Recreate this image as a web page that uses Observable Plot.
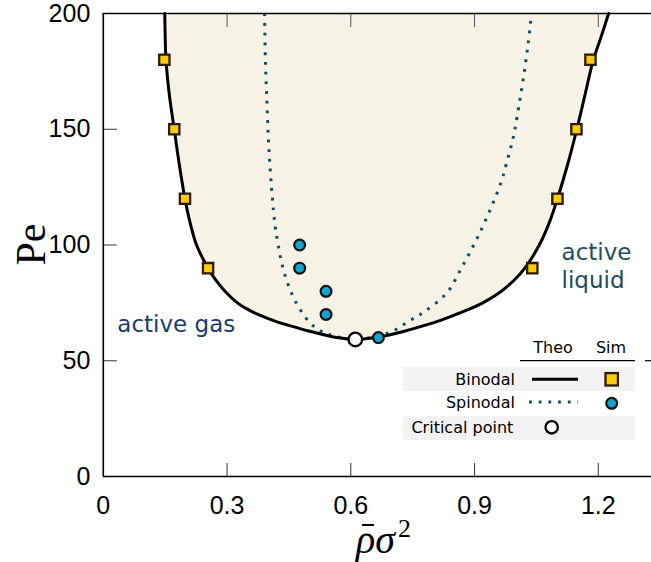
<!DOCTYPE html>
<html>
<head>
<meta charset="utf-8">
<script src="https://cdn.jsdelivr.net/npm/d3@7"></script>
<script src="https://cdn.jsdelivr.net/npm/@observablehq/plot@0.6"></script>
<style>
  html, body { margin: 0; padding: 0; background: #fff; }
  #chart { position: relative; width: 651px; height: 562px; overflow: hidden; }
  svg { display: block; }
</style>
</head>
<body>
<div id="chart"></div>
<script>
// ---- Data ----
// Binodal (theory): both branches at common Pe levels
const binodalPe    = [59.2, 60, 61, 62.5, 64.5, 67, 70, 72.5, 75, 80, 85, 90, 100, 110, 120, 135, 150, 165, 180, 190, 200];
const binodalLeft  = [0.611, 0.566, 0.540, 0.505, 0.465, 0.418, 0.375, 0.347, 0.325, 0.295, 0.272, 0.254, 0.226, 0.210, 0.198, 0.184, 0.172, 0.160, 0.152, 0.150, 0.149];
const binodalRight = [0.611, 0.660, 0.690, 0.725, 0.765, 0.810, 0.855, 0.890, 0.920, 0.965, 0.997, 1.022, 1.057, 1.082, 1.101, 1.126, 1.148, 1.168, 1.188, 1.207, 1.225];

// Spinodal (theory)
const spinLeftPe  = [200, 180, 160, 140, 120, 109, 100, 89, 77, 67, 62.5, 60.9, 59.2];
const spinLeftX   = [0.391, 0.393, 0.397, 0.402, 0.410, 0.416, 0.424, 0.437, 0.462, 0.498, 0.530, 0.555, 0.611];
const spinRightPe = [59.2, 60.5, 63, 67, 71, 79.6, 90, 100, 110, 126.4, 135, 146.6, 159.5, 174, 187, 200];
const spinRightX  = [0.611, 0.660, 0.704, 0.740, 0.777, 0.834, 0.868, 0.898, 0.925, 0.963, 0.977, 0.994, 1.007, 1.020, 1.030, 1.038];

// Binodal (simulation)
const simBinPe = [180, 150, 120, 90, 180, 150, 120, 90];
const simBinX  = [0.148, 0.172, 0.198, 0.254, 1.181, 1.147, 1.101, 1.040];

// Spinodal (simulation)
const simSpinPe = [100, 90, 80, 70, 60];
const simSpinX  = [0.476, 0.476, 0.540, 0.540, 0.667];

// Critical point (theory)
const criticalX = [0.611];
const criticalPe = [59.2];

// Axes
const xTicks = [0, 0.3, 0.6, 0.9, 1.2];
const yTicks = [0, 50, 100, 150, 200];
const xDomain = [0, 1.329];
const yDomain = [0, 200];

// Annotations
const gasLabel = [{text: "active gas", x: 0.177, pe: 65.5}];
const liquidLabel = [{text: "active\nliquid", x: 1.111, pe: 91.5}];

// ---- Build tables ----
const binodalTable = binodalPe.map((pe, i) => ({pe, left: binodalLeft[i], right: binodalRight[i]}));
const binodalPath = [
  ...binodalPe.map((pe, i) => ({pe, x: binodalLeft[i]})).reverse(),
  ...binodalPe.map((pe, i) => ({pe, x: binodalRight[i]})).slice(1)
];
const spinodalPath = [
  ...spinLeftPe.map((pe, i) => ({pe, x: spinLeftX[i]})),
  ...spinRightPe.map((pe, i) => ({pe, x: spinRightX[i]})).slice(1)
];
const simBin = simBinPe.map((pe, i) => ({pe, x: simBinX[i]}));
const simSpin = simSpinPe.map((pe, i) => ({pe, x: simSpinX[i]}));
const critical = criticalPe.map((pe, i) => ({pe, x: criticalX[i]}));

const SPIN = "#0f4f5c";
const tickFont = "'Liberation Sans', Arial, sans-serif";

const plot = Plot.plot({
  width: 651,
  height: 562,
  marginTop: 13,
  marginBottom: 86,
  marginLeft: 102.8,
  marginRight: 0,
  style: {fontFamily: tickFont, background: "#fff", overflow: "visible"},
  x: {domain: xDomain},
  y: {domain: yDomain},
  marks: [
    Plot.areaX(binodalTable, {y: "pe", x1: "left", x2: "right", fill: "#f6f2e6", curve: "catmull-rom"}),
    Plot.line(spinodalPath, {x: "x", y: "pe", stroke: SPIN, strokeWidth: 3, strokeDasharray: "2.8 6.9", curve: "catmull-rom", strokeLinecap: "butt"}),
    Plot.line(binodalPath, {x: "x", y: "pe", stroke: "#000", strokeWidth: 3, curve: "catmull-rom"}),
    // frame (left, bottom, top)
    Plot.ruleX([xDomain[0]], {stroke: "#000", strokeWidth: 1.6}),
    Plot.ruleY([yDomain[0]], {stroke: "#000", strokeWidth: 1.6}),
    Plot.ruleY([yDomain[1]], {stroke: "#000", strokeWidth: 1.6}),
    // inward ticks
    Plot.axisX(xTicks.slice(1), {anchor: "bottom", tickSize: -13, tickFormat: () => "", stroke: "#333", label: null}),
    Plot.axisX(xTicks.slice(1), {anchor: "top", tickSize: -13, tickFormat: () => "", stroke: "#555", label: null}),
    Plot.axisY(yTicks.slice(1, -1), {anchor: "left", tickSize: -14, tickFormat: () => "", stroke: "#333", label: null}),
    // tick labels
    Plot.axisX(xTicks, {anchor: "bottom", tickSize: 0, tickPadding: 20, fontSize: 25, fill: "#000", label: null, tickFormat: d => d === 0 ? "0" : d3.format(".1f")(d)}),
    Plot.axisY(yTicks, {anchor: "left", tickSize: 0, tickPadding: 13, fontSize: 25, fill: "#000", label: null}),
    // simulation points
    Plot.dot(simBin, {x: "x", y: "pe", symbol: "square", r: 5.8, fill: "#ffcc00", stroke: "#2a1a08", strokeWidth: 2.3}),
    Plot.dot(simSpin, {x: "x", y: "pe", r: 5.4, fill: "#0ea6cf", stroke: "#111", strokeWidth: 2.2}),
    Plot.dot(critical, {x: "x", y: "pe", r: 6.8, fill: "#fff", stroke: "#000", strokeWidth: 2.3}),
    // region labels
    Plot.text(gasLabel, {x: "x", y: "pe", text: "text", textAnchor: "middle", fill: "#1b3c6b", fontSize: 23, fontFamily: "'DejaVu Sans', sans-serif"}),
    Plot.text(liquidLabel, {x: "x", y: "pe", text: "text", textAnchor: "start", fill: "#1e4d5e", fontSize: 23, lineHeight: 1.22, fontFamily: "'DejaVu Sans', sans-serif"})
  ]
});

document.getElementById("chart").appendChild(plot);

// ---- Axis titles and legend (layout only) ----
const svg = d3.select(plot);
const fy0 = plot.scale("y").apply(yDomain[0]), fy1 = plot.scale("y").apply(yDomain[1]);
const serif = "'Liberation Serif', 'DejaVu Serif', serif";

// Y title "Pe"
svg.append("text")
  .attr("transform", `translate(45,${(fy0 + fy1) / 2}) rotate(-90)`)
  .attr("text-anchor", "middle")
  .attr("font-family", serif)
  .attr("font-size", 42)
  .attr("fill", "#000")
  .text("Pe");

// X title  rho-bar sigma^2
const xt = svg.append("text")
  .attr("x", 356).attr("y", 553)
  .attr("text-anchor", "start")
  .attr("font-family", serif)
  .attr("font-size", 40)
  .attr("fill", "#000");
xt.append("tspan").attr("font-style", "italic").text("\u03C1\u03C3");
xt.append("tspan").attr("font-size", 26).attr("dx", 3).attr("dy", -16).text("2");
svg.append("line").attr("x1", 362).attr("x2", 374).attr("y1", 525).attr("y2", 525).attr("stroke", "#000").attr("stroke-width", 2);

// Legend
const lg = svg.append("g").attr("font-family", "'DejaVu Sans', sans-serif").attr("font-size", 16).attr("fill", "#000");
lg.append("rect").attr("x", 403).attr("y", 367).attr("width", 232).attr("height", 24).attr("fill", "#f2f2f2");
lg.append("rect").attr("x", 403).attr("y", 416).attr("width", 232).attr("height", 24).attr("fill", "#f2f2f2");
lg.append("text").attr("x", 553).attr("y", 353).attr("text-anchor", "middle").text("Theo");
lg.append("text").attr("x", 611).attr("y", 353).attr("text-anchor", "middle").text("Sim");
lg.append("line").attr("x1", 520).attr("x2", 635).attr("y1", 360.7).attr("y2", 360.7).attr("stroke", "#000").attr("stroke-width", 1.2);
lg.append("line").attr("x1", 645).attr("x2", 651).attr("y1", 360.7).attr("y2", 360.7).attr("stroke", "#000").attr("stroke-width", 1.2);
lg.append("text").attr("x", 515).attr("y", 385).attr("text-anchor", "end").text("Binodal");
lg.append("line").attr("x1", 532).attr("x2", 578).attr("y1", 379.3).attr("y2", 379.3).attr("stroke", "#000").attr("stroke-width", 3);
lg.append("rect").attr("x", 611.7 - 6.2).attr("y", 379.3 - 6.2).attr("width", 12.4).attr("height", 12.4).attr("fill", "#ffcc00").attr("stroke", "#2a1a08").attr("stroke-width", 2.3);
lg.append("text").attr("x", 515).attr("y", 407.5).attr("text-anchor", "end").text("Spinodal");
lg.append("line").attr("x1", 529).attr("x2", 578).attr("y1", 402).attr("y2", 402).attr("stroke", SPIN).attr("stroke-width", 3).attr("stroke-dasharray", "2.8 6.9");
lg.append("circle").attr("cx", 611.7).attr("cy", 403.3).attr("r", 5.4).attr("fill", "#0ea6cf").attr("stroke", "#111").attr("stroke-width", 2.2);
lg.append("text").attr("x", 513.3).attr("y", 433).attr("text-anchor", "end").text("Critical point");
lg.append("circle").attr("cx", 551.7).attr("cy", 427.3).attr("r", 6.2).attr("fill", "#fff").attr("stroke", "#000").attr("stroke-width", 2.3);
</script>
</body>
</html>
